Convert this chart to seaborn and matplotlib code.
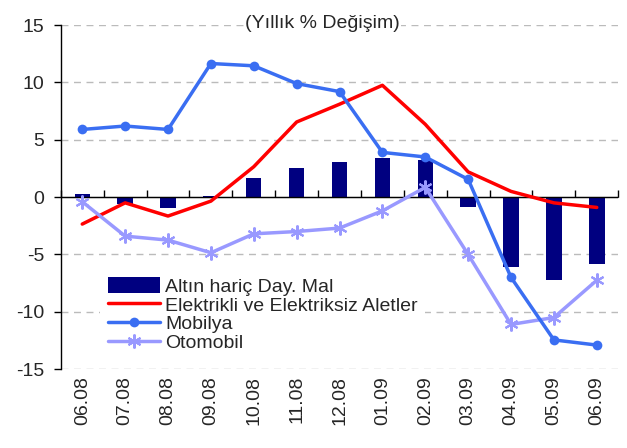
import numpy as np
import pandas as pd
import seaborn as sns
import matplotlib.pyplot as plt
from matplotlib.patches import Patch
from matplotlib.lines import Line2D

months = ["06.08", "07.08", "08.08", "09.08", "10.08", "11.08", "12.08",
          "01.09", "02.09", "03.09", "04.09", "05.09", "06.09"]
dayanikli = [0.3, -0.6, -0.95, 0.1, 1.7, 2.5, 3.05, 3.4, 3.2, -0.9, -6.1, -7.2, -5.8]
elektrikli = [-2.35, -0.5, -1.65, -0.35, 2.65, 6.55, 8.1, 9.75, 6.35, 2.2, 0.5, -0.5, -0.9]
mobilya = [5.9, 6.2, 5.9, 11.65, 11.45, 9.9, 9.2, 3.9, 3.5, 1.55, -7.0, -12.45, -12.9]
otomobil = [-0.4, -3.4, -3.75, -4.85, -3.2, -3.0, -2.7, -1.2, 0.85, -5.0, -11.1, -10.5, -7.25]

labels = ["Altın hariç Day. Mal", "Elektrikli ve Elektriksiz Aletler", "Mobilya", "Otomobil"]
c_bar, c_red, c_blue, c_light = "#000080", "#FF0000", "#3A6EF2", "#9999FF"

df = pd.DataFrame({"month": months, "dayanikli": dayanikli, "elektrikli": elektrikli,
                   "mobilya": mobilya, "otomobil": otomobil})

sns.set_style("white")
plt.rcParams["font.family"] = ["Liberation Sans", "DejaVu Sans"]
plt.rcParams["axes.unicode_minus"] = False

fig = plt.figure(figsize=(6.27, 4.48), dpi=100)
ax = fig.add_axes([0.097, 0.176, 0.889, 0.768])

sns.barplot(data=df, x="month", y="dayanikli", color=c_bar, width=0.36,
            saturation=1, edgecolor="none", linewidth=0, ax=ax, zorder=2)
sns.lineplot(data=df, x="month", y="elektrikli", color=c_red, lw=2.5, sort=False,
             ax=ax, zorder=4)
sns.lineplot(data=df, x="month", y="mobilya", color=c_blue, lw=2.5, marker="o",
             markersize=7, markeredgewidth=0, sort=False, ax=ax, zorder=5)
sns.lineplot(data=df, x="month", y="otomobil", color=c_light, lw=2.5, marker=(6, 2, 0),
             markersize=10, markeredgewidth=1.5, markeredgecolor=c_light,
             sort=False, ax=ax, zorder=4)

ax.set_xlim(-0.5, len(months) - 0.5)
ax.set_ylim(-15, 15)
ax.set_yticks([-15, -10, -5, 0, 5, 10, 15])
ax.set_xlabel("")
ax.set_ylabel("")

# gridlines (dashed grey, none at zero)
for v in [-15, -10, -5, 5, 10, 15]:
    ax.axhline(v, color="#BBBBBB", lw=1, ls=(0, (5, 4)), zorder=0)
ax.axhline(0, color="black", lw=1, zorder=3)

for s in ["top", "right", "bottom"]:
    ax.spines[s].set_visible(False)
ax.spines["left"].set_color("black")
ax.spines["left"].set_linewidth(1)
ax.tick_params(axis="y", direction="out", length=5, width=1, color="black",
               labelsize=14, pad=7, left=True)
ax.tick_params(axis="x", length=0, labelsize=14, rotation=90, pad=5)

# tick marks between categories on the zero axis
zero = ax.secondary_xaxis(0.5)
zero.spines["bottom"].set_visible(False)
zero.set_xticks(np.arange(len(months) + 1) - 0.5)
zero.set_xticklabels([])
zero.tick_params(axis="x", direction="out", length=5, width=1, color="black")

ax.text(0.469, 1.004, "(Yıllık % Değişim)", transform=ax.transAxes, ha="center",
        va="center", fontsize=14, bbox=dict(facecolor="white", edgecolor="none", pad=1),
        zorder=6)

handles = [
    Patch(facecolor=c_bar, edgecolor="none"),
    Line2D([], [], color=c_red, lw=2.5),
    Line2D([], [], color=c_blue, lw=2.5, marker="o", markersize=7, markeredgewidth=0),
    Line2D([], [], color=c_light, lw=2.5, marker=(6, 2, 0), markersize=10,
           markeredgewidth=1.5, markeredgecolor=c_light),
]
leg = ax.legend(handles, labels, loc="upper left", bbox_to_anchor=(0.07, 0.29),
                frameon=True, facecolor="white", edgecolor="none", framealpha=1,
                fancybox=False, fontsize=14, handlelength=2.7, handletextpad=0.25,
                labelspacing=0.0, borderpad=0.4, borderaxespad=0, handleheight=0.9)
leg.set_zorder(3.5)

fig.savefig("out.png", dpi=100)
